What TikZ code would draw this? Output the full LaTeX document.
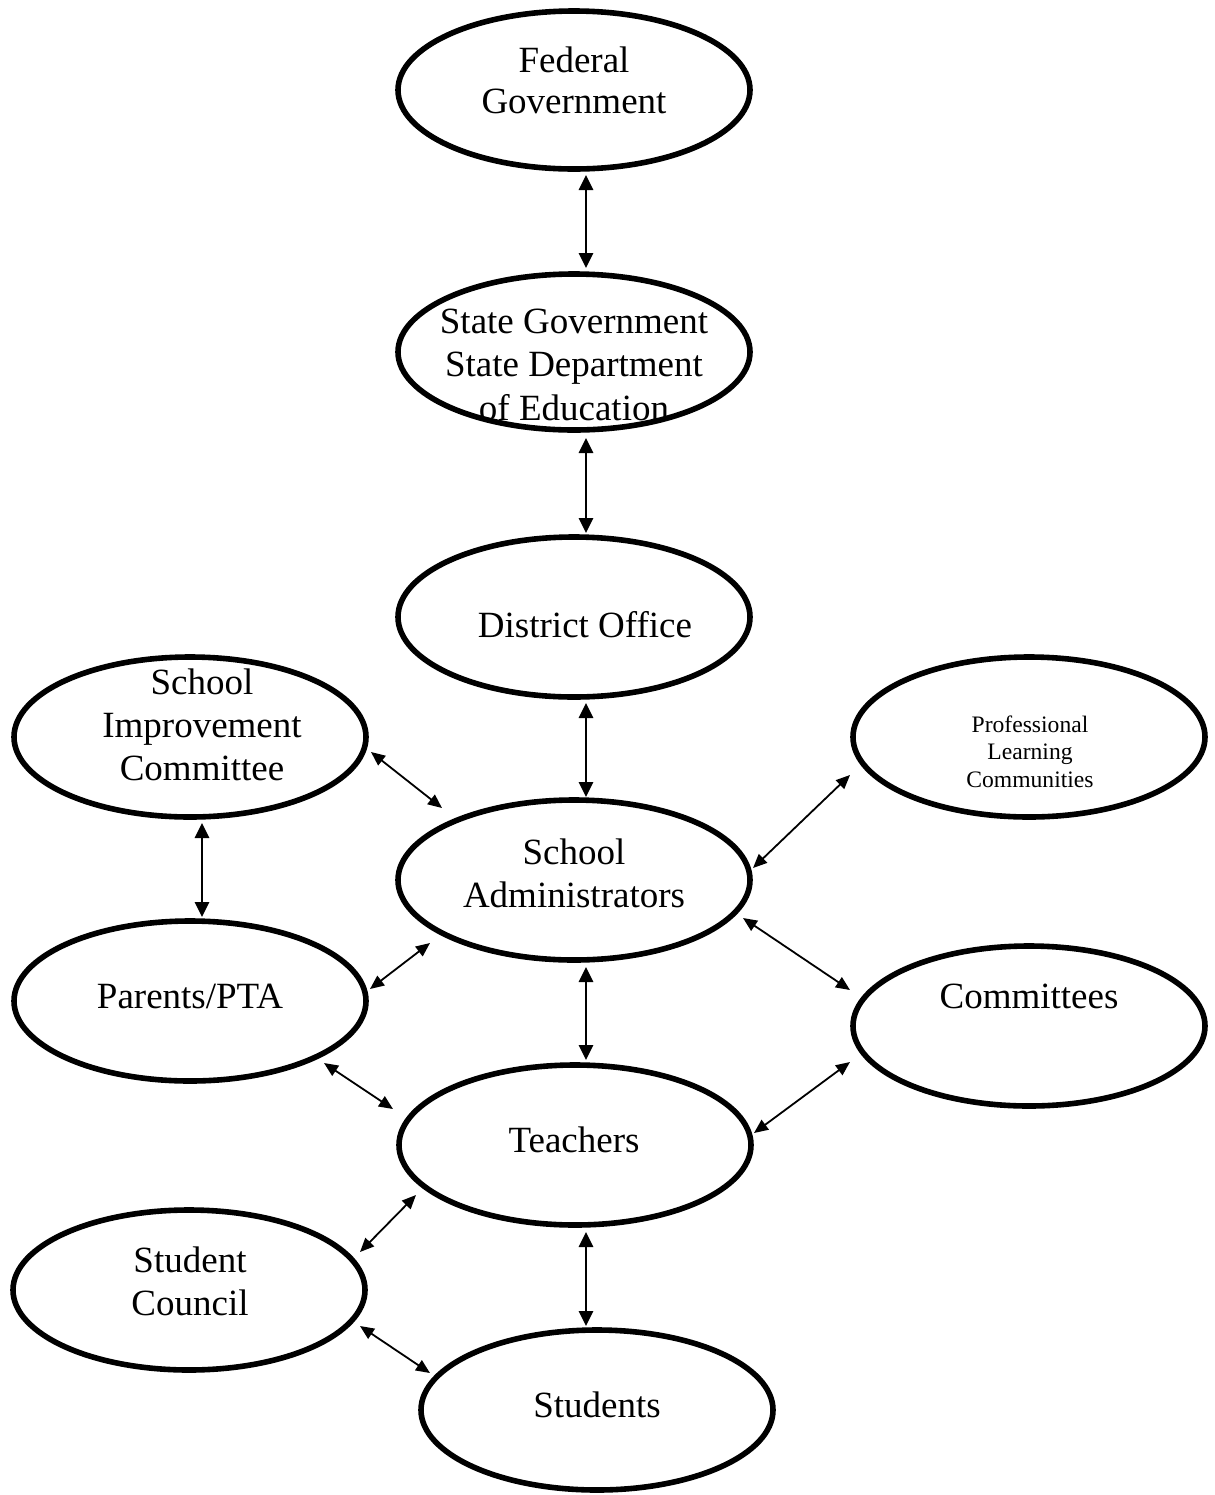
\documentclass[tikz,border=0pt]{standalone}
\usepackage{fontspec}
\setmainfont{Liberation Serif}
\usetikzlibrary{arrows.meta,shapes.geometric}
\begin{document}
\begin{tikzpicture}[x=0.5pt,y=-0.5pt,
  oval/.style={draw, ellipse, line width=2.8pt, inner sep=0pt, minimum width=176pt, minimum height=80pt},
  txt/.style={align=center, anchor=base, inner sep=0pt, font=\fontsize{18.5}{21.5}\selectfont},
  smalltxt/.style={align=center, anchor=base, inner sep=0pt, font=\fontsize{11.8}{13.6}\selectfont},
  vlink/.style={line width=1.4pt, {Triangle[length=7.5pt,width=7pt]}-{Triangle[length=7.5pt,width=7pt]}},
  dlink/.style={line width=0.9pt, {Triangle[length=7pt,width=6pt]}-{Triangle[length=7pt,width=6pt]}}
]
\useasboundingbox (0,0) rectangle (1215,1495);

% ellipses
\node[oval, minimum height=79pt] (fed) at (574,90) {};
\node[oval, minimum height=78pt] (state) at (574,352) {};
\node[oval] (dist) at (574,617) {};
\node[oval] (sic) at (190,737) {};
\node[oval] (plc) at (1029,737) {};
\node[oval] (sa) at (574,880) {};
\node[oval] (par) at (190,1001) {};
\node[oval] (com) at (1029,1026) {};
\node[oval] (tea) at (575,1145) {};
\node[oval] (sc) at (189,1290) {};
\node[oval] (stu) at (597,1410) {};

% texts (base anchor = baseline of the last line)
\node[txt, font=\fontsize{18.5}{20.5}\selectfont] (fedT) at (574,113) {Federal\\Government};
\node[txt, font=\fontsize{18.5}{21.75}\selectfont] (stateT) at (574,420) {State Government\\State Department\\of Education};
\node[txt] (distT) at (585,637) {District Office};
\node[txt] (sicT) at (202,780) {School\\Improvement\\Committee};
\node[smalltxt] (plcT) at (1030,787) {Professional\\Learning\\Communities};
\node[txt] (saT) at (574,907) {School\\Administrators};
\node[txt] (parT) at (190,1008) {Parents/PTA};
\node[txt] (comT) at (1029,1008) {Committees};
\node[txt] (teaT) at (574,1152) {Teachers};
\node[txt] (scT) at (190,1315) {Student\\Council};
\node[txt] (stuT) at (597,1417) {Students};

% connector end points
\coordinate (fs1) at (586,175);  \coordinate (fs2) at (586,268);
\coordinate (sd1) at (586,438);  \coordinate (sd2) at (586,533);
\coordinate (ds1) at (586,703);  \coordinate (ds2) at (586,797);
\coordinate (st1) at (586,967);  \coordinate (st2) at (586,1060);
\coordinate (ts1) at (586,1232); \coordinate (ts2) at (586,1326);
\coordinate (sp1) at (202,823);  \coordinate (sp2) at (202,917);
\coordinate (ss1) at (371,752);  \coordinate (ss2) at (442,808);
\coordinate (ps1) at (370,989);  \coordinate (ps2) at (430,943);
\coordinate (pt1) at (324,1063); \coordinate (pt2) at (393,1109);
\coordinate (ap1) at (753,868);  \coordinate (ap2) at (850,775);
\coordinate (ac1) at (743,918);  \coordinate (ac2) at (850,990);
\coordinate (tc1) at (754,1133); \coordinate (tc2) at (850,1062);
\coordinate (ct1) at (360,1252); \coordinate (ct2) at (416,1195);
\coordinate (cs1) at (360,1326); \coordinate (cs2) at (430,1373);

% connectors
\draw[vlink] (fs1) -- (fs2);
\draw[vlink] (sd1) -- (sd2);
\draw[vlink] (ds1) -- (ds2);
\draw[vlink] (st1) -- (st2);
\draw[vlink] (ts1) -- (ts2);
\draw[vlink] (sp1) -- (sp2);
\draw[dlink] (ss1) -- (ss2);
\draw[dlink] (ps1) -- (ps2);
\draw[dlink] (pt1) -- (pt2);
\draw[dlink] (ap1) -- (ap2);
\draw[dlink] (ac1) -- (ac2);
\draw[dlink] (tc1) -- (tc2);
\draw[dlink] (ct1) -- (ct2);
\draw[dlink] (cs1) -- (cs2);
\end{tikzpicture}
\end{document}
